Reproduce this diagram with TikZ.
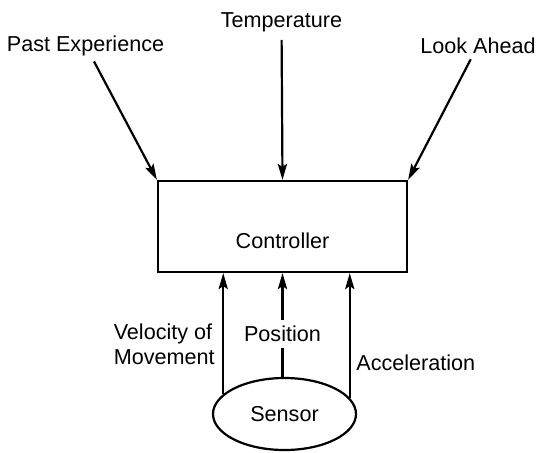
\documentclass[tikz,border=0pt]{standalone}
\usepackage{fontspec}
\setmainfont{Liberation Sans}
\usetikzlibrary{arrows.meta,shapes.geometric}

\begin{document}
\begin{tikzpicture}[
    % one unit is one pixel of the sketch
    x=0.5pt, y=-0.5pt,
    font=\fontsize{10.8}{12.5}\selectfont,
    % nodes
    base/.style={draw=black, line width=1.1pt, inner sep=0pt},
    box/.style={base, rectangle, minimum width=124.5pt, minimum height=45.5pt},
    sensorshape/.style={base, ellipse, minimum width=71.5pt, minimum height=36pt},
    txt/.style={text=black, inner sep=1pt},
    gaptxt/.style={txt, fill=white, inner xsep=1pt, inner ysep=3pt},
    % arrows
    feed/.style={-{Stealth[length=8pt,width=4.6pt,inset=1.5pt]}, line width=1.1pt},
  ]

  \useasboundingbox (0,0) rectangle (537,452);

  \node (ctrl)    [box]             at (282.5,226.5) {};
  \node (ctrltxt) [txt, anchor=base] at (282.5,248) {Controller};

  \node (sensor)  [sensorshape]     at (284.5,414) {Sensor};

  \node (past)    [txt, anchor=base] at (85.5,51)  {Past Experience};
  \node (temp)    [txt, anchor=base] at (281.5,27) {Temperature};
  \node (ahead)   [txt, anchor=base] at (478,53)   {Look Ahead};

  \node (vel)     [txt, anchor=east, align=left] at (217,344) {Velocity of\\Movement};
  \node (acc)     [txt, anchor=base west]        at (354,370) {Acceleration};

  % inputs from above
  \draw[feed, shorten <=2pt] (past)  -- (ctrl.north west);
  \draw[feed, shorten <=3pt] (temp)  -- (ctrl.north);
  \draw[feed, shorten <=2pt] (ahead) -- (ctrl.north east);

  % sensor outputs
  \draw[feed] (sensor.162.4) -- (sensor.162.4 |- ctrl.south);
  \draw[feed] (ctrl.south |- sensor.north) -- node[gaptxt, pos=0.415]{Position} (ctrl.south);
  \draw[feed] (sensor.14.6)  -- (sensor.14.6 |- ctrl.south);

\end{tikzpicture}
\end{document}
